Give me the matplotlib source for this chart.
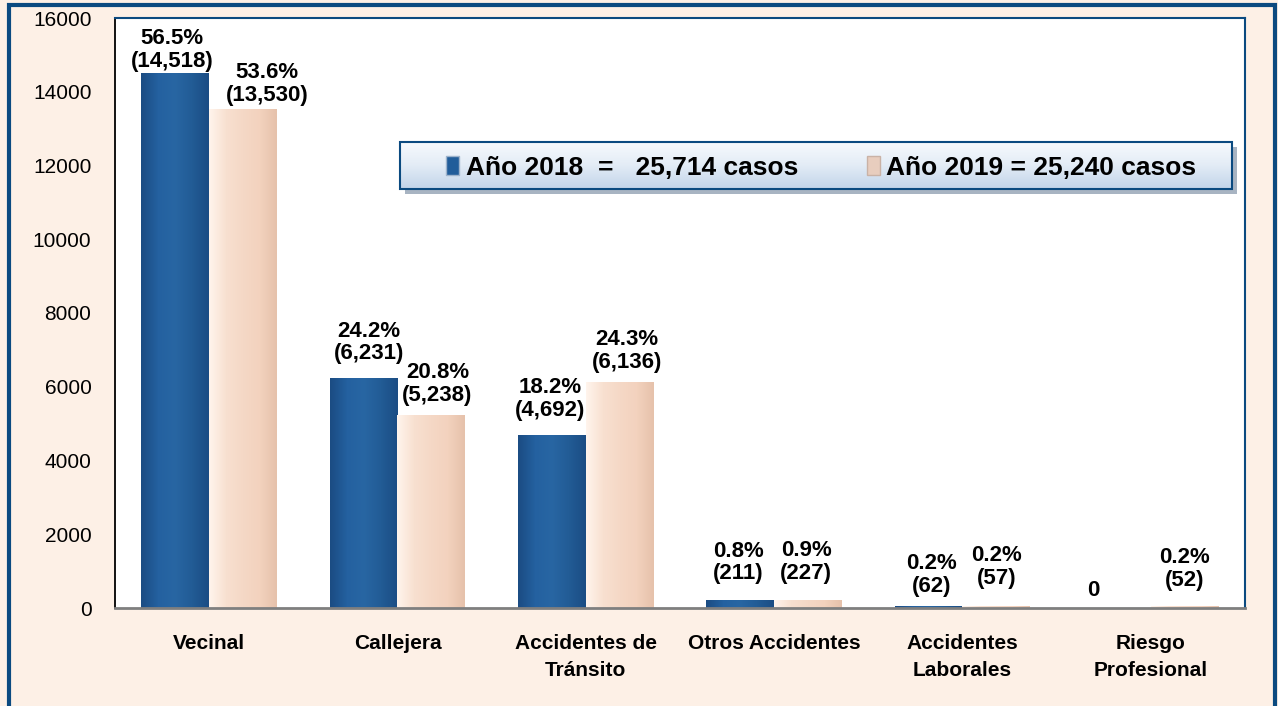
import numpy as np
import matplotlib
matplotlib.use('Agg')
import matplotlib.pyplot as plt
from matplotlib.patches import Rectangle
from matplotlib.colors import LinearSegmentedColormap

# datos
categorias = ['Vecinal', 'Callejera', 'Accidentes de\nTránsito', 'Otros Accidentes',
              'Accidentes\nLaborales', 'Riesgo\nProfesional']
casos_2018 = [14518, 6231, 4692, 211, 62, 0]
casos_2019 = [13530, 5238, 6136, 227, 57, 52]
etiquetas_2018 = ['56.5%\n(14,518)', '24.2%\n(6,231)', '18.2%\n(4,692)', '0.8%\n(211)', '0.2%\n(62)', '0']
etiquetas_2019 = ['53.6%\n(13,530)', '20.8%\n(5,238)', '24.3%\n(6,136)', '0.9%\n(227)', '0.2%\n(57)', '0.2%\n(52)']
leyenda = ['Año 2018  =   25,714 casos', 'Año 2019 = 25,240 casos']
yticks = list(range(0, 16001, 2000))

# desplazamiento de las etiquetas (pixeles)
desp_2018 = [(-3, 1), (5, 14), (-2, 14), (-2, 16), (3, 9), (-24, 7)]
desp_2019 = [(24, 3), (6, 9), (7, 9), (-2, 16), (0, 17), (0, 15)]

AZUL = '#215D9A'
DURAZNO = '#F5D9C7'
FONDO = '#FDF0E6'
BORDE = '#0B4A80'

plt.rcParams['font.family'] = ['Liberation Sans', 'DejaVu Sans']


def sombrear(ax, barras, colores):
    cmap = LinearSegmentedColormap.from_list('g', colores)
    grad = np.linspace(0, 1, 64).reshape(1, -1)
    for b in barras:
        h = b.get_height()
        if h <= 0:
            continue
        x0 = b.get_x()
        w = b.get_width()
        im = ax.imshow(grad, extent=[x0, x0 + w, 0, h], aspect='auto', cmap=cmap,
                       zorder=b.get_zorder() + 0.1, interpolation='bilinear')
        im.set_clip_path(b)


fig = plt.figure(figsize=(12.78, 7.06), dpi=100, facecolor=FONDO)
ax = fig.add_axes([115 / 1278, 1 - 608 / 706, 1130 / 1278, 590 / 706])
ax.set_facecolor('white')

x = np.arange(len(categorias))
ancho = 0.36
b1 = ax.bar(x - ancho / 2, casos_2018, ancho, color=AZUL, zorder=2)
b2 = ax.bar(x + ancho / 2, casos_2019, ancho, color=DURAZNO, zorder=2)
sombrear(ax, b1, ['#1B4C83', '#2461A0', '#2866A3', '#225C96', '#1B4D84'])
sombrear(ax, b2, ['#FFF4EC', '#F8E0D0', '#F5D8C6', '#F3D2BE', '#E6C2AB'])

for barras, etiquetas, desp in [(b1, etiquetas_2018, desp_2018), (b2, etiquetas_2019, desp_2019)]:
    for b, txt, (dx, dy) in zip(barras, etiquetas, desp):
        ax.annotate(txt, (b.get_x() + b.get_width() / 2, b.get_height()),
                    xytext=(dx, dy), textcoords='offset pixels',
                    ha='center', va='bottom', fontsize=16, fontweight='bold',
                    linespacing=1.1, zorder=5)

ax.set_xlim(-0.5, len(categorias) - 0.5)
ax.set_ylim(0, 16000)
ax.set_yticks(yticks)
ax.set_yticklabels([str(v) for v in yticks], fontsize=15)
ax.set_xticks(x)
ax.set_xticklabels(categorias, fontsize=15, fontweight='bold', linespacing=1.5)
ax.tick_params(axis='y', length=0, pad=17)
ax.tick_params(axis='x', length=0, pad=19)

ax.spines['left'].set_color('black')
ax.spines['left'].set_linewidth(1.3)
ax.spines['bottom'].set_color('#7F7F7F')
ax.spines['bottom'].set_linewidth(2)
for lado in ['top', 'right']:
    ax.spines[lado].set_color(BORDE)
    ax.spines[lado].set_linewidth(1.5)

# caja de la leyenda con degradado
caja = (0.2522, 0.710, 0.7363, 0.080)
ax.add_patch(Rectangle((caja[0] + 0.004, caja[1] - 0.008), caja[2], caja[3],
                       transform=ax.transAxes, facecolor='#A8B4C2', edgecolor='none', zorder=5))
fondo_caja = Rectangle(caja[:2], caja[2], caja[3], transform=ax.transAxes,
                       facecolor='#DCE7F4', edgecolor=BORDE, linewidth=1.5, zorder=5.2)
ax.add_patch(fondo_caja)
grad_v = np.linspace(0, 1, 32).reshape(-1, 1)
im = ax.imshow(grad_v, extent=[caja[0], caja[0] + caja[2], caja[1], caja[1] + caja[3]],
               transform=ax.transAxes, aspect='auto', origin='lower',
               cmap=LinearSegmentedColormap.from_list('c', ['#C3D5EA', '#E3ECF6', '#F7FAFD']),
               zorder=5.1, interpolation='bilinear')
im.set_clip_path(fondo_caja)
fondo_caja.set_facecolor('none')

manijas = [Rectangle((0, 0), 1, 1, facecolor=AZUL, edgecolor='#9DB3CC'),
           Rectangle((0, 0), 1, 1, facecolor='#E8CDBE', edgecolor='#C9B2A6')]
leg = ax.legend(manijas, leyenda, loc='center', bbox_to_anchor=(0.625, 0.746),
                ncol=2, frameon=False,
                handlelength=0.5, handleheight=0.7, handletextpad=0.25,
                columnspacing=2.6,
                prop={'weight': 'bold', 'size': 19})
leg.set_zorder(6)

ax.set_xlim(-0.5, len(categorias) - 0.5)
ax.set_ylim(0, 16000)

# marco azul de la figura
fig.patches.append(Rectangle((9 / 1278, -0.1), 1266 / 1278, 1.1 - 5 / 706,
                             transform=fig.transFigure, fill=False,
                             edgecolor=BORDE, linewidth=3))

fig.savefig('out.png', dpi=100, facecolor=FONDO)
